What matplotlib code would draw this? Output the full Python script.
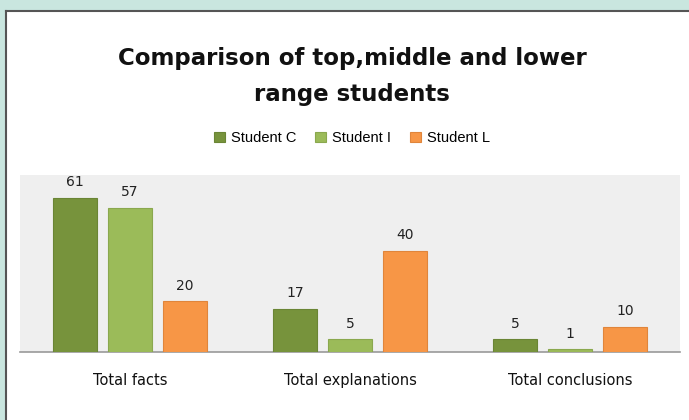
import matplotlib
matplotlib.use("Agg")
import matplotlib.pyplot as plt
from matplotlib.patches import Rectangle
from matplotlib.lines import Line2D
import numpy as np

categories = ["Total facts", "Total explanations", "Total conclusions"]
series_names = ["Student C", "Student I", "Student L"]
student_c = [61, 17, 5]
student_i = [57, 5, 1]
student_l = [20, 40, 10]

colors = ["#77933c", "#9bbb59", "#f79646"]
edges = ["#6a8535", "#8aa84e", "#e0853b"]

W, H = 689, 420
fig = plt.figure(figsize=(W / 100, H / 100), dpi=100)
fig.patch.set_facecolor("white")

# outer teal frame
fig.patches.append(Rectangle((0, 1 - 10 / H), 1, 10 / H, transform=fig.transFigure,
                             facecolor="#c9e6df", edgecolor="none", zorder=0))
fig.patches.append(Rectangle((0, 0), 5 / W, 1, transform=fig.transFigure,
                             facecolor="#c9e6df", edgecolor="none", zorder=0))
fig.lines.append(Line2D([5.5 / W, 1], [1 - 10.5 / H, 1 - 10.5 / H], transform=fig.transFigure,
                        color="#555555", lw=1.5))
fig.lines.append(Line2D([5.5 / W, 5.5 / W], [0, 1 - 10.5 / H], transform=fig.transFigure,
                        color="#555555", lw=1.5))

ax = fig.add_axes([20 / W, (H - 352) / H, 660 / W, 177 / H])
ax.set_facecolor("#efefef")
x = np.arange(len(categories))
width = 0.2
step = 0.25
for k, (vals, name) in enumerate(zip([student_c, student_i, student_l], series_names)):
    bars = ax.bar(x + (k - 1) * step, vals, width, color=colors[k], edgecolor=edges[k],
                  linewidth=0.8, label=name, zorder=3)
    for b, v in zip(bars, vals):
        ax.text(b.get_x() + b.get_width() / 2, v + 3.5, str(v), ha="center", va="bottom",
                fontsize=10, family="DejaVu Sans", color="#222222")

ax.set_xlim(-0.5, 2.5)
ax.set_ylim(0, 70)
ax.set_yticks([])
ax.set_xticks(x)
ax.set_xticklabels(categories, fontsize=10.5, family="DejaVu Sans", color="#111111")
ax.tick_params(axis="x", length=0, pad=15)
for s in ["top", "left", "right"]:
    ax.spines[s].set_visible(False)
ax.spines["bottom"].set_color("#999999")
ax.spines["bottom"].set_linewidth(1.2)

fig.text(352 / W, 1 - 58 / H, "Comparison of top,middle and lower", ha="center", va="center",
         fontsize=16.5, fontweight="bold", family="DejaVu Sans", color="#111111")
fig.text(352 / W, 1 - 95 / H, "range students", ha="center", va="center",
         fontsize=16.5, fontweight="bold", family="DejaVu Sans", color="#111111")

leg = ax.legend(loc="center", bbox_to_anchor=(352 / W, 1 - 138 / H), bbox_transform=fig.transFigure,
                ncol=3, frameon=False, prop={"family": "Liberation Sans", "size": 10.5},
                handlelength=0.75, handleheight=0.65, handletextpad=0.4, columnspacing=1.3)

fig.savefig("out.png", dpi=100, facecolor="white")
